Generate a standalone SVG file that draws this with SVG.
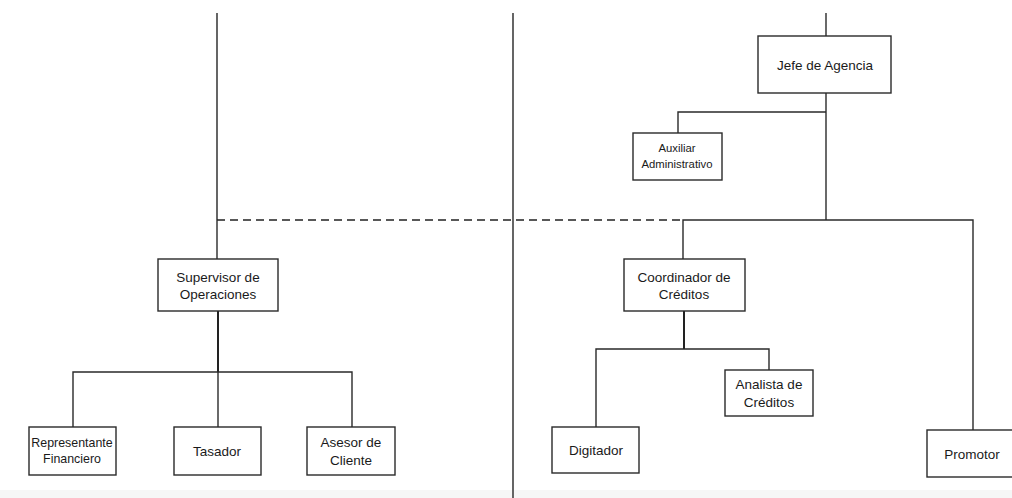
<svg xmlns="http://www.w3.org/2000/svg" width="1012" height="498" viewBox="0 0 1012 498">
<style>
.box{fill:#fff;stroke:#2a2a2a;stroke-width:1.4}
.ln{fill:none;stroke:#2a2a2a;stroke-width:1.4}
.tr{fill:none;stroke:#222;stroke-width:2}
.sep{fill:none;stroke:#555;stroke-width:1.8}
.dash{fill:none;stroke:#222;stroke-width:1.4;stroke-dasharray:8 5}
text{font-family:"Liberation Sans",Arial,sans-serif;font-size:13.5px;fill:#1a1a1a;text-anchor:middle}
.sm{font-size:11.3px}
.rp{font-size:12.4px}
</style>
<rect x="0" y="0" width="1012" height="498" fill="#fff"/>
<rect x="0" y="490" width="1012" height="8" fill="#f6f6f6"/>
<g id="connectors">
<line class="sep" x1="217" y1="13" x2="217" y2="220"/>
<line class="sep" x1="513" y1="13" x2="513" y2="498"/>
<line class="ln" x1="826" y1="13" x2="826" y2="36"/>
<line class="ln" x1="826" y1="93" x2="826" y2="220"/>
<polyline class="ln" points="826,112 678,112 678,133"/>
<line class="dash" x1="217" y1="220" x2="683" y2="220"/>
<polyline class="ln" points="683,259 683,220 973,220 973,430"/>
<line class="ln" x1="217" y1="220" x2="217" y2="259"/>
<line class="tr" x1="218" y1="311" x2="218" y2="372"/>
<polyline class="ln" points="73,427 73,372 352,372 352,427"/>
<line class="ln" x1="218" y1="372" x2="218" y2="427"/>
<line class="tr" x1="684" y1="311" x2="684" y2="349"/>
<polyline class="ln" points="596,427 596,349 769,349 769,370"/>
</g>
<g id="jefe"><rect class="box" x="758" y="36" width="133" height="57"/><text x="825" y="70">Jefe de Agencia</text></g>
<g id="auxiliar"><rect class="box" x="633" y="133" width="89" height="47"/><text class="sm" x="677" y="152">Auxiliar</text><text class="sm" x="677" y="168">Administrativo</text></g>
<g id="supervisor"><rect class="box" x="158" y="259" width="120" height="52"/><text x="218" y="282">Supervisor de</text><text x="218" y="299">Operaciones</text></g>
<g id="representante"><rect class="box" x="29" y="427" width="87" height="48"/><text class="rp" x="72" y="447">Representante</text><text class="rp" x="72" y="463">Financiero</text></g>
<g id="tasador"><rect class="box" x="174" y="427" width="87" height="48"/><text x="217" y="456">Tasador</text></g>
<g id="asesor"><rect class="box" x="307" y="427" width="88" height="48"/><text x="351" y="447">Asesor de</text><text x="351" y="465">Cliente</text></g>
<g id="coordinador"><rect class="box" x="624" y="259" width="121" height="52"/><text x="684" y="282">Coordinador de</text><text x="684" y="299">Créditos</text></g>
<g id="analista"><rect class="box" x="725" y="370" width="88" height="46"/><text x="769" y="389">Analista de</text><text x="769" y="407">Créditos</text></g>
<g id="digitador"><rect class="box" x="552" y="427" width="87" height="46"/><text x="596" y="455">Digitador</text></g>
<g id="promotor"><rect class="box" x="927" y="430" width="95" height="47"/><text x="972" y="459">Promotor</text></g>
</svg>
